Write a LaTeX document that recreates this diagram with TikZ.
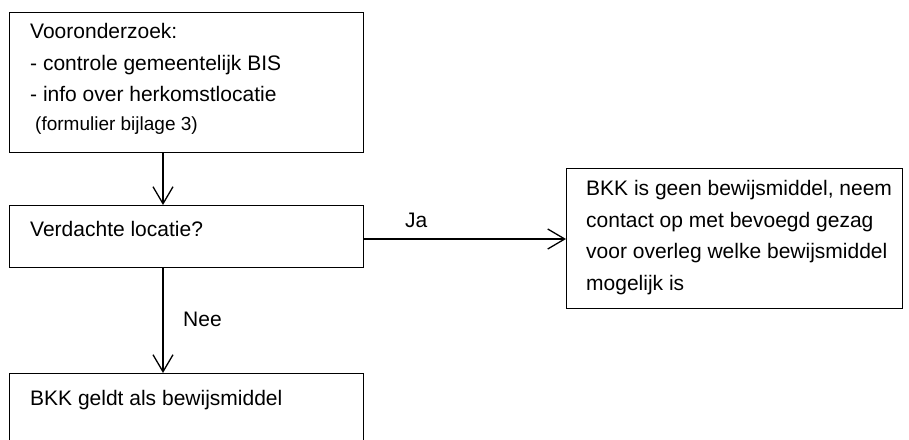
\documentclass[tikz,border=0pt]{standalone}
\usepackage{fontspec}
\setmainfont{Liberation Sans}
\usepackage{tikz}
\usetikzlibrary{arrows.meta}
\usetikzlibrary{positioning}
\tikzstyle{stapbox}=[draw=black, line width=1pt, shape=rectangle, fill=white, inner sep=0pt, anchor=north west]
\tikzstyle{staptekst}=[inner sep=0pt, anchor=base west, align=left, font=\fontsize{21}{31.5}\selectfont]
\tikzstyle{pijl}=[-{Straight Barb[length=17pt, width=20pt, line width=1.3pt]}, color=black]

\begin{document}
\begin{tikzpicture}[x=1pt, y=-1pt]
\useasboundingbox (0,0) rectangle (909,439);
\node [stapbox, minimum width=354pt, minimum height=140pt] (vooronderzoek) at (9,12) {};
\node [stapbox, minimum width=354pt, minimum height=62pt] (verdacht) at (9,205) {};
\node [stapbox, minimum width=354pt, minimum height=90pt] (bewijs) at (9,373) {};
\node [stapbox, minimum width=336pt, minimum height=140pt] (overleg) at (566,168) {};

% multi-line texts: base = baseline of last line
\node [staptekst] (vooronderzoektekst) at (30,130) {Vooronderzoek:\\- controle gemeentelijk BIS\\- info over herkomstlocatie\\[-3pt]{\fontsize{19}{23}\selectfont\hspace{5pt}(formulier bijlage 3)}};
\node [staptekst] (verdachttekst) at (30,236) {Verdachte locatie?};
\node [staptekst] (bewijstekst) at (30,405) {BKK geldt als bewijsmiddel};
\node [staptekst] (overlegtekst) at (586,290) {BKK is geen bewijsmiddel, neem\\contact op met bevoegd gezag\\voor overleg welke bewijsmiddel\\mogelijk is};
\node [staptekst] (ja) at (405,227) {Ja};
\node [staptekst] (nee) at (183,326) {Nee};

\coordinate (stam) at (163,0);
\coordinate (jalijn) at (0,239);
\draw[pijl, line width=1.2pt] (vooronderzoek.south -| stam) -- (verdacht.north -| stam);
\draw[pijl, line width=1.2pt] (verdacht.south -| stam) -- (bewijs.north -| stam);
\draw[pijl, line width=2pt] (verdacht.east |- jalijn) -- (overleg.west |- jalijn);
\end{tikzpicture}
\end{document}
